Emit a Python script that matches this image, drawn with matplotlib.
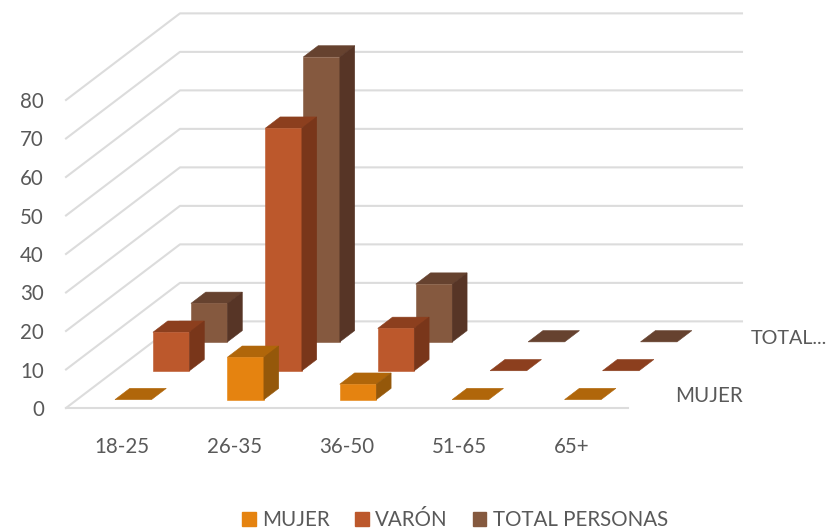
import matplotlib
matplotlib.use('Agg')
import matplotlib.pyplot as plt
from matplotlib.patches import Patch

plt.rcParams['font.family'] = ['Lato', 'DejaVu Sans']

categories = ['18-25', '26-35', '36-50', '51-65', '65+']
mujer = [0, 11, 4, 0, 0]
varon = [10, 63, 11, 0, 0]
total = [10, 74, 15, 0, 0]
y_ticks = [0, 10, 20, 30, 40, 50, 60, 70, 80]

names = ['MUJER', 'VARÓN', 'TOTAL PERSONAS']
depth_labels = ['MUJER', 'TOTAL...']

# front, top, side
mujer_cols = ['#E58310', '#B0660A', '#95580A']
varon_cols = ['#BC582C', '#8C3F1E', '#79361A']
total_cols = ['#85593F', '#66422F', '#573526']
grid_col = '#DCDCDC'
text_col = '#595959'

# oblique projection: one series row of depth shifts x and y by these
shear_x = 0.338
shear_y = 7.5
bar_w = 0.325
bar_d = 0.39
row_gap = 0.29


def proj(u, w, v):
    return u + shear_x * w, v + shear_y * w


def poly(ax, pts, col, z):
    xs = [p[0] for p in pts]
    ys = [p[1] for p in pts]
    ax.fill(xs, ys, color=col, lw=0.4, zorder=z, clip_on=False)


def draw_bar(ax, i, row, val, cols, z):
    u0 = i + 0.5 - bar_w / 2
    u1 = u0 + bar_w
    w0 = row + row_gap
    w1 = w0 + bar_d
    poly(ax, [proj(u0, w0, val), proj(u1, w0, val), proj(u1, w1, val), proj(u0, w1, val)], cols[1], z)
    if val > 0:
        poly(ax, [proj(u0, w0, 0), proj(u1, w0, 0), proj(u1, w0, val), proj(u0, w0, val)], cols[0], z)
        poly(ax, [proj(u1, w0, 0), proj(u1, w1, 0), proj(u1, w1, val), proj(u1, w0, val)], cols[2], z)


fig = plt.figure(figsize=(8.28, 5.29), dpi=100)
ax = fig.add_axes([66 / 828, (529 - 408) / 529, (743 - 66) / 828, 395 / 529])
ax.set_xlim(0, 677 / 112.4)
ax.set_ylim(0, 395 / 3.85)
for s in ax.spines.values():
    s.set_visible(False)

# walls and floor
for t in y_ticks:
    a = proj(0, 0, t)
    b = proj(0, 3, t)
    c = proj(5, 3, t)
    ax.plot([a[0], b[0], c[0]], [a[1], b[1], c[1]], color=grid_col, lw=1.5, zorder=1, clip_on=False)
a = proj(0, 0, 0)
b = proj(5, 0, 0)
ax.plot([a[0], b[0]], [a[1], b[1]], color=grid_col, lw=1.5, zorder=1, clip_on=False)

# back row first so the front bars sit over it
for row, vals, cols in [(2, total, total_cols), (1, varon, varon_cols), (0, mujer, mujer_cols)]:
    for i in range(len(categories)):
        draw_bar(ax, i, row, vals[i], cols, 5 - row)

ax.set_xticks([i + 0.5 for i in range(len(categories))])
ax.set_xticklabels(categories)
ax.set_yticks(y_ticks)
ax.tick_params(axis='x', length=0, pad=21, labelsize=14.8, labelcolor=text_col)
ax.tick_params(axis='y', length=0, pad=16, labelsize=14.8, labelcolor=text_col)

# depth axis labels, the long one a bit smaller so it stays inside the picture
for w, lab, size in [(0.5, depth_labels[0], 14.8), (2.5, depth_labels[1], 14.2)]:
    x, y = proj(5.25, w, 0)
    ax.text(x, y - 0.7, lab, color=text_col, fontsize=size, va='center', ha='left', clip_on=False)

handles = [Patch(color=mujer_cols[0]), Patch(color=varon_cols[0]), Patch(color=total_cols[0])]
fig.legend(handles, names, loc='lower center', bbox_to_anchor=(455 / 828, -0.002), ncol=3, frameon=False,
           fontsize=14.8, labelcolor=text_col, handlelength=0.65, handleheight=0.65,
           handletextpad=0.3, columnspacing=1.25, borderpad=0, borderaxespad=0)

fig.savefig('out.png', dpi=100)
